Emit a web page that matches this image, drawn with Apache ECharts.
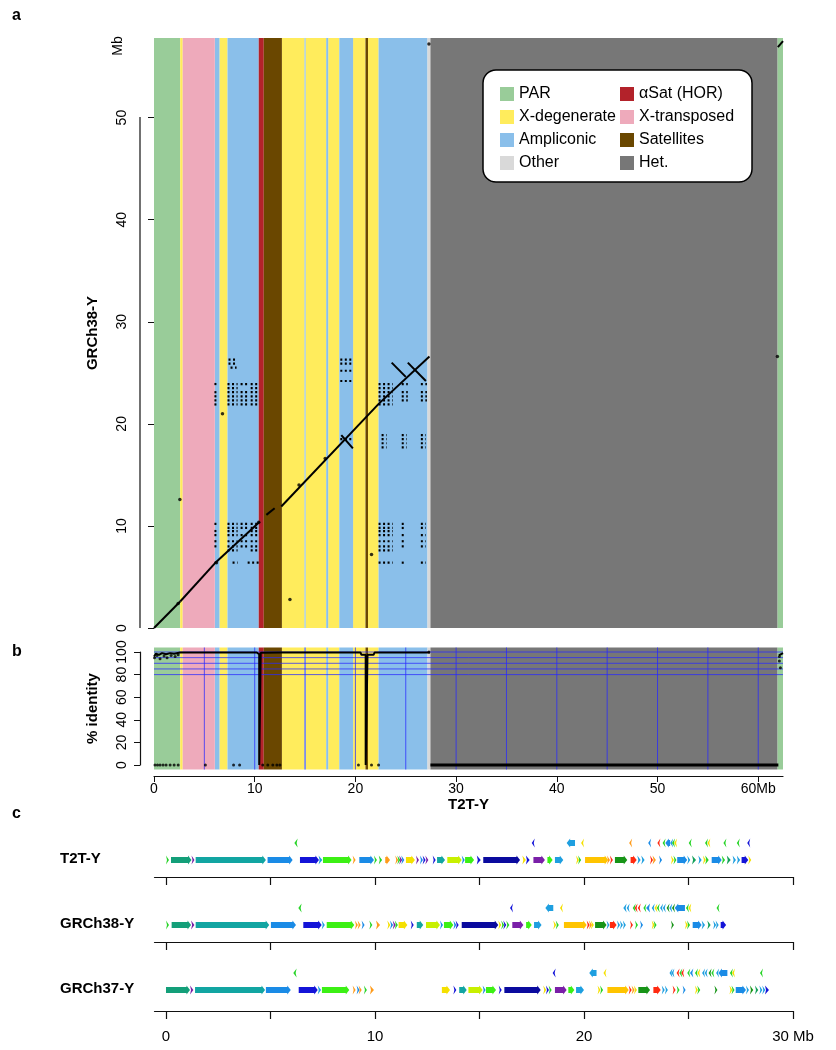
<!DOCTYPE html>
<html><head><meta charset="utf-8">
<script src="https://cdn.jsdelivr.net/npm/echarts@6/dist/echarts.min.js"></script>
<style>html,body{margin:0;padding:0;background:#fff}#c{width:836px;height:1050px}</style>
</head><body><div id="c"></div>
<script>
// ---------------- DATA ----------------
const classNames = ['PAR','X-degenerate','Ampliconic','Other','αSat (HOR)','X-transposed','Satellites','Het.'];
// T2T-Y sequence classes (Mb): start, end, class index
const bandStart = [0, 2.6, 2.85, 6.04, 6.5, 7.3, 10.4, 10.9, 12.7, 14.95, 15.05, 17.1, 17.3, 18.4, 19.77, 21.0, 21.25, 22.3, 27.16, 27.45, 61.9];
const bandEnd   = [2.6, 2.85, 6.04, 6.5, 7.3, 10.4, 10.9, 12.7, 14.95, 15.05, 17.1, 17.3, 18.4, 19.77, 21.0, 21.25, 22.3, 27.16, 27.45, 61.9, 62.46];
const bandClass = [0, 1, 5, 2, 1, 2, 4, 6, 1, 2, 1, 2, 1, 2, 1, 6, 1, 2, 3, 7, 0];

// dot plot: alignment segments [T2T x1, GRCh38 y1, T2T x2, GRCh38 y2]
const diagSegs = [
  [0,0,2.6,2.6],[2.6,2.6,6.2,6.5],[6.2,6.5,10.5,10.4],
  [11.16,11.08,11.98,11.74],
  [12.64,11.9,22.38,22.03],[22.38,22.03,27.35,26.6],
  [61.95,56.9,62.46,57.5],
  [18.6,18.9,19.75,17.6],
  [23.6,26.0,25.0,24.6],[25.2,26.0,27.0,24.2]
];
// off-diagonal repeat hits: [GRCh38 y, T2T x-from, T2T x-to]
const dashRows = [
  [26.3,7.4,8.2],[26.3,18.5,19.6],
  [25.9,7.4,8.2],[25.9,18.5,19.6],
  [25.5,7.6,8.2],[25.2,18.5,19.6],[24.2,18.5,19.6],
  [23.9,6.0,6.3],[23.9,7.3,8.3],[23.9,8.6,9.4],[23.9,9.6,10.4],[23.9,22.3,23.7],[23.9,24.6,25.2],[23.9,26.5,27.1],
  [23.5,7.3,8.3],[23.5,9.6,10.4],[23.5,22.3,23.7],
  [23.1,6.0,6.3],[23.1,7.3,8.3],[23.1,8.6,9.4],[23.1,9.6,10.4],[23.1,22.3,23.7],[23.1,24.6,25.2],[23.1,26.5,27.1],
  [22.7,6.0,6.3],[22.7,7.3,8.3],[22.7,8.6,9.4],[22.7,9.6,10.4],[22.7,22.3,23.7],[22.7,24.6,25.2],[22.7,26.5,27.1],
  [22.3,6.0,6.3],[22.3,7.3,8.3],[22.3,8.6,9.4],[22.3,9.6,10.4],[22.3,22.3,23.7],[22.3,24.6,25.2],[22.3,26.5,27.1],
  [21.9,6.0,6.3],[21.9,7.3,8.3],[21.9,8.6,9.4],[21.9,9.6,10.4],[21.9,22.3,23.7],
  [18.9,22.6,23.1],[18.9,24.6,25.1],[18.9,26.5,27.0],
  [18.5,18.5,19.7],[18.5,22.6,23.1],[18.5,24.6,25.1],[18.5,26.5,27.0],
  [18.1,22.6,23.1],[18.1,24.6,25.1],[18.1,26.5,27.0],
  [17.7,22.6,23.1],[17.7,24.6,25.1],[17.7,26.5,27.0],
  [10.2,6.0,6.3],[10.2,7.3,8.3],[10.2,8.6,9.4],[10.2,9.6,10.4],[10.2,22.3,23.7],[10.2,24.6,25.0],[10.2,26.5,27.0],
  [9.8,7.3,8.3],[9.8,8.6,9.4],[9.8,9.6,10.4],[9.8,22.3,23.7],[9.8,24.6,25.0],[9.8,26.5,27.0],
  [9.5,6.0,6.3],[9.5,7.3,8.3],[9.5,9.6,10.4],[9.5,22.3,23.7],
  [9.1,6.0,6.3],[9.1,7.3,8.3],[9.1,8.6,9.4],[9.1,9.6,10.4],[9.1,22.3,23.7],[9.1,24.6,25.0],[9.1,26.5,27.0],
  [8.5,6.0,6.3],[8.5,7.3,8.3],[8.5,8.6,9.4],[8.5,9.6,10.4],[8.5,22.3,23.7],[8.5,24.6,25.0],[8.5,26.5,27.0],
  [8.0,6.0,6.3],[8.0,7.3,8.3],[8.0,8.6,9.4],[8.0,9.6,10.4],[8.0,22.3,23.7],[8.0,24.6,25.0],[8.0,26.5,27.0],
  [7.6,7.3,8.3],[7.6,9.6,10.4],[7.6,22.3,23.7],
  [6.4,6.0,6.3],[6.4,7.8,8.3],[6.4,9.3,10.4],[6.4,22.3,23.7],[6.4,24.6,25.0],[6.4,26.5,27.0]
];
const isoDots = [[2.57,12.6],[6.8,21.0],[13.5,2.8],[21.6,7.2],[27.3,57.2],[61.9,26.6],[2.4,2.4],[6.2,6.4],[10.4,10.35],[17.0,16.6],[14.4,14.0]];

// % identity track (T2T Mb, %)
const identTop = [[0,96],[0.2,98.5],[0.5,97.5],[0.8,99],[1.2,98],[1.6,99],[2.0,98.5],[2.6,99.5],[10.2,99.6],[10.35,98],[10.45,98],[10.45,0],[10.6,0],[10.6,99.3],[12.6,99.5],[12.7,99.6],[20.5,99.6],[20.6,97.5],[21.02,97.5],[21.02,0],[21.2,0],[21.2,97.5],[21.8,97.5],[21.9,99.5],[27.4,99.6]];
const identHet = [[27.45,0],[62.0,0]];
const identPar2 = [[62.05,97],[62.46,99]];
const identDots = [[0.05,95],[0.3,97],[0.6,94],[1.0,96.5],[1.3,95],[1.7,97],[2.1,96],[2.4,97.5],
  [0.1,0],[0.35,0],[0.6,0],[0.9,0],[1.2,0],[1.6,0],[2.0,0],[2.4,0],[5.1,0],[7.9,0],[8.5,0],[10.8,0],[11.3,0],[11.8,0],[12.2,0],[12.5,0],[20.3,0],[21.6,0],[22.3,0],
  [62.1,92],[62.1,96],[62.2,86],[27.3,100]];
const identGuideY = [80, 85, 90, 95, 100];
const identGuideX = [5,10,15,20,25,30,35,40,45,50,55,60];

// gene tracks: [start Mb, end Mb, strand, colour key]
const trackNames = ['T2T-Y','GRCh38-Y','GRCh37-Y'];
const t2tGenes = [
 [0.0,0.11,1,'g'],[0.24,1.22,1,'tg'],[1.22,1.36,1,'p'],[1.42,4.78,1,'t'],[4.86,6.06,1,'b'],[6.14,6.30,-1,'g'],
 [6.41,7.32,1,'db'],[7.30,7.48,1,'c'],[7.51,8.88,1,'lg'],[8.93,9.04,1,'o'],[9.25,9.95,1,'b'],[9.95,10.08,1,'g'],
 [10.18,10.34,1,'g'],[10.49,10.72,1,'o'],[10.97,11.07,1,'o'],[11.07,11.16,1,'g'],[11.16,11.26,1,'p'],[11.26,11.39,1,'b'],
 [11.48,11.91,1,'y'],[11.96,12.09,1,'p'],[12.15,12.28,1,'b'],[12.28,12.41,1,'db'],[12.41,12.52,1,'p'],[12.76,12.87,1,'db'],
 [12.97,13.35,1,'t'],[13.46,14.15,1,'yg'],[14.15,14.26,1,'b'],[14.31,14.74,1,'lg'],[14.87,15.06,1,'db'],[15.18,16.94,1,'nb'],
 [17.05,17.22,1,'y'],[17.22,17.40,1,'db'],[17.50,17.61,-1,'db'],[17.58,18.13,1,'p'],[18.25,18.50,1,'lg'],[18.61,19.01,1,'c'],
 [19.17,19.57,-1,'c'],[19.62,19.72,1,'y'],[19.72,19.81,1,'g'],[19.86,19.99,-1,'y'],[20.05,21.16,1,'gold'],[21.10,21.24,1,'o'],
 [21.24,21.37,1,'r'],[21.48,22.07,1,'dg'],[22.16,22.29,-1,'o'],[22.23,22.52,1,'r'],[22.55,22.71,1,'c'],[22.74,22.90,1,'c'],
 [23.07,23.20,-1,'b'],[23.16,23.28,1,'r'],[23.28,23.44,1,'o'],[23.51,23.64,-1,'r'],[23.59,23.71,1,'b'],
 [23.76,23.89,-1,'g'],[23.89,24.12,-1,'b'],[24.12,24.21,-1,'c'],[24.21,24.31,-1,'g'],[24.31,24.43,-1,'y'],
 [24.16,24.28,1,'y'],[24.28,24.39,1,'g'],[24.46,24.94,1,'b'],[24.94,25.07,1,'c'],[25.01,25.14,-1,'g'],[25.17,25.36,1,'mg'],
 [25.47,25.63,1,'c'],[25.69,25.80,1,'y'],[25.80,25.97,1,'g'],[25.79,25.90,-1,'g'],[25.90,26.03,-1,'y'],[26.11,26.59,1,'b'],
 [26.59,26.75,1,'g'],[26.67,26.80,-1,'g'],[26.83,27.02,1,'mg'],[27.11,27.27,1,'c'],[27.31,27.47,1,'c'],[27.31,27.43,-1,'g'],
 [27.54,27.86,1,'db'],[27.86,27.99,1,'y'],[27.81,27.94,-1,'db']
];
const grch38Genes = [
 [0,0.11,1,'g'],[0.27,1.2,1,'tg'],[1.2,1.36,1,'p'],[1.42,4.94,1,'t'],[5.02,6.22,1,'b'],[6.33,6.49,-1,'g'],
 [6.57,7.45,1,'db'],[7.45,7.6,1,'c'],[7.69,9.01,1,'lg'],[9.04,9.16,1,'o'],[9.17,9.28,1,'o'],[9.36,9.47,1,'b'],
 [9.73,9.87,1,'g'],[10.05,10.24,1,'o'],[10.59,10.72,1,'y'],[10.72,10.83,1,'b'],[10.85,10.95,1,'p'],[10.95,11.07,1,'g'],
 [11.13,11.55,1,'y'],[11.71,11.84,1,'db'],[12.0,12.31,1,'t'],[12.44,13.11,1,'yg'],[13.11,13.24,1,'b'],[13.3,13.75,1,'lg'],
 [13.75,13.84,1,'b'],[13.86,13.99,1,'db'],[14.15,15.9,1,'nb'],[15.9,16.04,1,'y'],[16.04,16.14,1,'g'],[16.14,16.28,1,'db'],
 [16.28,16.43,1,'g'],[16.46,16.59,-1,'db'],[16.57,17.1,1,'p'],[17.23,17.5,1,'lg'],[17.61,17.97,1,'c'],[18.15,18.53,-1,'c'],
 [18.53,18.65,1,'y'],[18.65,18.77,1,'g'],[18.85,18.96,-1,'y'],[19.04,20.13,1,'gold'],[20.13,20.24,1,'r'],[20.24,20.33,1,'o'],
 [20.33,20.42,1,'y'],[20.53,21.08,1,'dg'],[21.08,21.17,1,'c'],[21.24,21.56,1,'r'],[21.58,21.72,1,'c'],[21.72,21.86,1,'c'],
 [21.86,22.0,1,'c'],[21.88,22.04,-1,'c'],[22.04,22.17,-1,'c'],[22.33,22.42,-1,'g'],[22.42,22.52,-1,'r'],[22.57,22.68,-1,'r'],
 [22.2,22.33,1,'r'],[22.44,22.54,1,'g'],[22.68,22.78,1,'b'],[22.84,22.97,-1,'g'],[22.97,23.16,-1,'b'],[23.24,23.35,-1,'c'],
 [23.37,23.44,-1,'y'],[23.48,23.57,-1,'g'],[23.64,23.77,-1,'c'],[23.77,23.88,-1,'c'],[23.95,24.08,-1,'dg'],[24.08,24.21,-1,'c'],
 [24.21,24.34,-1,'dg'],[24.34,24.83,-1,'b'],[24.88,24.99,-1,'g'],[24.99,25.1,-1,'y'],[23.24,23.33,1,'y'],[23.33,23.42,1,'g'],
 [24.16,24.28,1,'dg'],[24.83,24.93,1,'y'],[24.93,25.07,1,'g'],[25.2,25.63,1,'b'],[25.63,25.79,1,'c'],[25.9,26.06,1,'mg'],
 [26.18,26.3,1,'c'],[26.3,26.44,1,'c'],[26.34,26.47,-1,'g'],[26.54,26.8,1,'db']
];
const grch37Genes = [
 [0.0,1.15,1,'tg'],[1.15,1.31,1,'p'],[1.39,4.74,1,'t'],[4.78,5.97,1,'b'],[6.09,6.25,-1,'g'],[6.35,7.26,1,'db'],
 [7.26,7.42,1,'c'],[7.46,8.77,1,'lg'],[8.93,9.04,1,'o'],[9.12,9.22,1,'b'],[9.22,9.31,1,'o'],[9.47,9.6,1,'g'],[9.76,9.95,1,'o'],
 [13.2,13.59,1,'y'],[13.75,13.88,1,'db'],[14.03,14.39,1,'t'],[14.47,15.15,1,'yg'],[15.15,15.26,1,'b'],[15.31,15.79,1,'lg'],
 [15.92,16.01,1,'db'],[16.19,17.93,1,'nb'],[18.05,18.18,1,'y'],[18.18,18.31,1,'db'],[18.31,18.44,1,'g'],[18.5,18.63,-1,'db'],
 [18.61,19.17,1,'p'],[19.25,19.54,1,'lg'],[19.62,20.0,1,'c'],[20.25,20.6,-1,'c'],[20.65,20.77,1,'y'],[20.77,20.86,1,'g'],
 [20.93,21.05,-1,'y'],[21.12,22.14,1,'gold'],[22.14,22.28,1,'r'],[22.28,22.39,1,'o'],[22.39,22.52,1,'y'],[22.6,23.16,1,'dg'],
 [23.32,23.67,1,'r'],[23.72,23.84,1,'c'],[23.87,24.0,1,'c'],[24.09,24.18,-1,'c'],[24.18,24.31,-1,'c'],[24.43,24.56,-1,'r'],
 [24.56,24.65,-1,'g'],[24.65,24.75,-1,'r'],[24.94,25.07,-1,'g'],[25.07,25.23,-1,'b'],[25.31,25.42,-1,'g'],[25.42,25.55,-1,'y'],
 [25.65,25.77,-1,'c'],[25.77,25.9,-1,'c'],[25.96,26.09,-1,'dg'],[26.09,26.19,-1,'g'],[26.32,26.43,-1,'c'],[26.43,26.86,-1,'b'],
 [26.98,27.08,-1,'g'],[27.08,27.18,-1,'y'],[28.42,28.55,-1,'g'],[24.24,24.34,1,'r'],[24.43,24.56,1,'g'],[24.72,24.83,1,'b'],
 [25.31,25.42,1,'y'],[25.42,25.52,1,'g'],[26.24,26.35,1,'dg'],[26.96,27.06,1,'y'],[27.06,27.14,1,'g'],[27.26,27.75,1,'b'],
 [27.75,27.88,1,'c'],[27.94,28.1,1,'dg'],[28.18,28.34,1,'mg'],[28.39,28.51,1,'c'],[28.53,28.64,1,'c'],[28.66,28.85,1,'db']
];
const trackGenes = [t2tGenes, grch38Genes, grch37Genes];

// ---------------- STYLE ----------------
const classColors = ['#99cc99','#ffec5c','#8abfea','#d9d9d9','#b3222a','#eeaabb','#6a4700','#777777'];
const geneColors = {g:'#28d428',tg:'#139f79',t:'#12a5a2',b:'#1a8be6',db:'#1414d8',nb:'#0a0a9e',lg:'#3cf014',
  yg:'#c8f000',y:'#f5e000',gold:'#ffc400',o:'#ff9b1a',r:'#ff2a10',p:'#7a1fa8',c:'#1e9fe0',dg:'#179417',mg:'#13a05a'};
const FONT = 'Liberation Sans, Arial, Helvetica, sans-serif';
const AX = '#111';

const chart = echarts.init(document.getElementById('c'), null, {width:836, height:1050});

function bandSeries(k, gi, ext) {
  const data = [];
  bandStart.forEach((s,i)=>{ if (bandClass[i]===k) data.push([s, bandEnd[i]]); });
  return {
    type:'custom', name: classNames[k], xAxisIndex: gi, yAxisIndex: gi, z: 1, silent: true, clip: false,
    itemStyle: {color: classColors[k]},
    data,
    renderItem(params, api) {
      const cs = params.coordSys;
      const x1 = api.coord([api.value(0), 0])[0];
      const x2 = api.coord([api.value(1), 0])[0];
      return {type:'rect', shape:{x:x1, y:cs.y-ext, width:Math.max(x2-x1,1), height:cs.height+2*ext},
        style:{fill: classColors[k]}};
    }
  };
}

function geneSeries(ti) {
  const genes = trackGenes[ti];
  return {
    type:'custom', xAxisIndex: 2+ti, yAxisIndex: 2+ti, z: 3, silent: true, clip: false,
    data: genes.map(g=>[g[0], g[1], g[2]]),
    renderItem(params, api) {
      const g = genes[params.dataIndex];
      const row = g[2] > 0 ? 0 : 1;
      const a = api.coord([g[0], row]), b = api.coord([g[1], row]);
      const y = a[1];
      let x1 = a[0], x2 = b[0];
      if (x2 - x1 < 3) x2 = x1 + 3;
      const len = x2 - x1, hh = 4.5, bh = 3, hl = Math.min(3.5, len);
      let pts;
      if (g[2] > 0) {
        pts = len <= 4 ? [[x1,y-hh],[x2,y],[x1,y+hh],[x1+1,y]] :
          [[x1,y-bh],[x2-hl,y-bh],[x2-hl,y-hh],[x2,y],[x2-hl,y+hh],[x2-hl,y+bh],[x1,y+bh]];
      } else {
        pts = len <= 4 ? [[x2,y-hh],[x1,y],[x2,y+hh],[x2-1,y]] :
          [[x2,y-bh],[x1+hl,y-bh],[x1+hl,y-hh],[x1,y],[x1+hl,y+hh],[x1+hl,y+bh],[x2,y+bh]];
      }
      return {type:'polygon', shape:{points:pts}, style:{fill: geneColors[g[3]]}};
    }
  };
}

const series = [];
for (let k=0;k<8;k++) series.push(bandSeries(k, 0, 0));
for (let k=0;k<8;k++) series.push(bandSeries(k, 1, 4.5));

// dot plot repeats
series.push({
  type:'custom', xAxisIndex:0, yAxisIndex:0, z:3, silent:true,
  data: dashRows,
  renderItem(params, api) {
    const p1 = api.coord([api.value(1), api.value(0)]), p2 = api.coord([api.value(2), api.value(0)]);
    return {type:'line', shape:{x1:p1[0], y1:p1[1], x2:p2[0], y2:p2[1]},
      style:{stroke:'#000', lineWidth:2.2, lineDash:[2,2.5]}};
  }
});
series.push({
  type:'custom', xAxisIndex:0, yAxisIndex:0, z:4, silent:true,
  data: diagSegs,
  renderItem(params, api) {
    const p1 = api.coord([api.value(0), api.value(1)]), p2 = api.coord([api.value(2), api.value(3)]);
    return {type:'line', shape:{x1:p1[0], y1:p1[1], x2:p2[0], y2:p2[1]}, style:{stroke:'#000', lineWidth:2}};
  }
});
series.push({type:'scatter', xAxisIndex:0, yAxisIndex:0, z:4, silent:true, symbolSize:3.5,
  itemStyle:{color:'#000'}, data: isoDots});

// identity guide lines
series.push({
  type:'custom', xAxisIndex:1, yAxisIndex:1, z:2, silent:true,
  data: identGuideX.map(v=>[v, 0]).concat(identGuideY.map(v=>[v, 1])),
  renderItem(params, api) {
    const cs = params.coordSys;
    const v = api.value(0), horiz = api.value(1) === 1;
    let shape;
    if (horiz) { const y = api.coord([0, v])[1]; shape = {x1:cs.x, y1:y, x2:cs.x+cs.width, y2:y}; }
    else { const x = api.coord([v, 0])[0]; shape = {x1:x, y1:cs.y-4.5, x2:x, y2:cs.y+cs.height+4.5}; }
    return {type:'line', shape, style:{stroke:'rgba(40,40,255,0.75)', lineWidth:1}};
  }
});
[identTop, identHet, identPar2].forEach((d,i)=>{
  series.push({type:'line', xAxisIndex:1, yAxisIndex:1, z:4, silent:true, showSymbol:false,
    lineStyle:{color:'#000', width: i===1 ? 3 : 2}, data:d, clip:false});
});
series.push({type:'scatter', xAxisIndex:1, yAxisIndex:1, z:4, silent:true, symbolSize:3, clip:false,
  itemStyle:{color:'#000'}, data: identDots});

for (let t=0;t<3;t++) series.push(geneSeries(t));

const trackTop = [843, 908, 973];
const axisOffset = [17, 17, 21];

const grid = [
  {left:154, top:38, width:629, height:590},
  {left:154, top:652, width:629, height:113}
];
trackTop.forEach(t=>grid.push({left:154.5, top:t, width:638.5, height:17}));

const labelStyle = {fontFamily:FONT, fontSize:14, color:'#000'};
const xAxis = [
  {gridIndex:0, type:'value', min:0, max:62.46, show:false},
  {gridIndex:1, type:'value', min:0, max:62.46, position:'bottom', offset:11,
   axisLine:{show:true, onZero:false, lineStyle:{color:AX, width:1.2}},
   axisTick:{show:true, length:6, lineStyle:{color:AX}, customValues:[0,10,20,30,40,50,60]},
   axisLabel:{...labelStyle, margin:6, customValues:[0,10,20,30,40,50,60], formatter:v=> v===60 ? '60Mb' : String(v)},
   splitLine:{show:false},
   name:'T2T-Y', nameLocation:'middle', nameGap:21,
   nameTextStyle:{fontFamily:FONT, fontSize:15, fontWeight:'bold', color:'#000'}}
];
for (let t=0;t<3;t++) xAxis.push({gridIndex:2+t, type:'value', min:-0.55, max:30, position:'bottom', offset:axisOffset[t],
  axisLine:{show:true, onZero:false, lineStyle:{color:AX, width:1.2}},
  axisTick:{show:true, length:8, lineStyle:{color:AX, width:1.2}, customValues:[0,5,10,15,20,25,30]},
  axisLabel:{show: t===2, ...labelStyle, fontSize:15, margin:18, customValues:[0,10,20,30], formatter:v=> v===30 ? '30 Mb' : String(v)},
  splitLine:{show:false}});

const yAxis = [
  {gridIndex:0, type:'value', min:0, max:57.8, interval:10, position:'left', offset:14,
   axisLine:{show:false},
   axisTick:{show:true, length:6, lineStyle:{color:AX}, customValues:[0,10,20,30,40,50]},
   axisLabel:{...labelStyle, rotate:90, margin:11, customValues:[0,10,20,30,40,50]},
   splitLine:{show:false},
   name:'GRCh38-Y', nameLocation:'middle', nameGap:40, nameRotate:90,
   nameTextStyle:{fontFamily:FONT, fontSize:15, fontWeight:'bold', color:'#000'}},
  {gridIndex:1, type:'value', min:0, max:100, interval:20, position:'left', offset:14,
   axisLine:{show:true, onZero:false, lineStyle:{color:AX, width:1.2}},
   axisTick:{show:true, length:6, lineStyle:{color:AX}},
   axisLabel:{...labelStyle, rotate:90, margin:11},
   splitLine:{show:false},
   name:'% identity', nameLocation:'middle', nameGap:40, nameRotate:90,
   nameTextStyle:{fontFamily:FONT, fontSize:15, fontWeight:'bold', color:'#000'}}
];
for (let t=0;t<3;t++) yAxis.push({gridIndex:2+t, type:'value', min:0, max:1, show:false});

const legendCommon = {orient:'vertical', selectedMode:false, icon:'rect', itemWidth:14, itemHeight:14, itemGap:7, z:6, padding:0,
  textStyle:{fontFamily:FONT, fontSize:16, color:'#000'}};

const graphicEls = [
  {type:'rect', shape:{x:483, y:70, width:269, height:112, r:13}, style:{fill:'#fff', stroke:'#000', lineWidth:1.5}, z:5},
  {type:'text', x:12, y:8, style:{text:'a', font:'bold 16px '+FONT, fill:'#000'}, z:10},
  {type:'text', x:12, y:644, style:{text:'b', font:'bold 16px '+FONT, fill:'#000'}, z:10},
  {type:'text', x:12, y:806, style:{text:'c', font:'bold 16px '+FONT, fill:'#000'}, z:10},
  {type:'text', x:118, y:46, rotation:Math.PI/2, style:{text:'Mb', font:'14px '+FONT, fill:'#000', align:'center', verticalAlign:'middle'}, z:10},
  {type:'line', shape:{x1:140, y1:628, x2:140, y2:117}, style:{stroke:AX, lineWidth:1.2}, z:10}
];
trackNames.forEach((n,i)=>{
  graphicEls.push({type:'text', x:60, y:trackTop[i]+16, style:{text:n, font:'bold 15px '+FONT, fill:'#000', verticalAlign:'middle'}, z:10});
});

chart.setOption({
  animation:false,
  backgroundColor:'#fff',
  grid, xAxis, yAxis, series,
  legend:[
    {...legendCommon, left:500, top:86, data:['PAR','X-degenerate','Ampliconic','Other']},
    {...legendCommon, left:620, top:86, data:['αSat (HOR)','X-transposed','Satellites','Het.']}
  ],
  graphic:{elements: graphicEls}
});
</script></body></html>
